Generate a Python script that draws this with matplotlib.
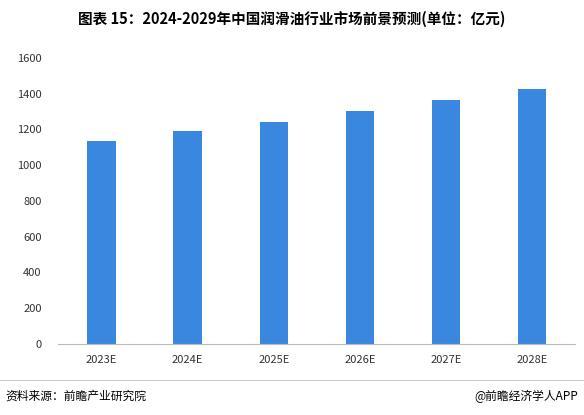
import matplotlib.pyplot as plt

plt.rcParams["font.family"] = ["Noto Sans CJK SC", "DejaVu Sans"]

years = ["2023E", "2024E", "2025E", "2026E", "2027E", "2028E"]
values = [1134, 1190, 1241, 1303, 1365, 1427]

fig = plt.figure(figsize=(5.84, 4.15), dpi=100)
ax = fig.add_axes([0.1, 0.172, 0.885, 0.688])

ax.bar(years, values, width=0.33, color="#3a87e0")
ax.set_ylim(0, 1600)
ax.set_yticks(range(0, 1601, 200))
ax.set_xlim(-0.5, 5.5)
for side in ("top", "right", "left"):
    ax.spines[side].set_visible(False)
ax.spines["bottom"].set_color("#bbbbbb")
ax.tick_params(axis="both", length=0, labelsize=8, colors="#333333")
ax.tick_params(axis="x", pad=8)
ax.tick_params(axis="y", pad=12)

fig.text(0.5, 0.955, "图表 15：2024-2029年中国润滑油行业市场前景预测(单位：亿元)",
         ha="center", va="center", fontsize=10.5, fontweight="bold")
fig.add_artist(plt.Line2D([0.0, 1.0], [0.085, 0.085], color="#cccccc", lw=0.8))
fig.text(0.01, 0.045, "资料来源：前瞻产业研究院", fontsize=8.5, va="center")
fig.text(0.99, 0.045, "@前瞻经济学人APP", fontsize=8.5, va="center", ha="right")

fig.savefig("out.png", dpi=100)
